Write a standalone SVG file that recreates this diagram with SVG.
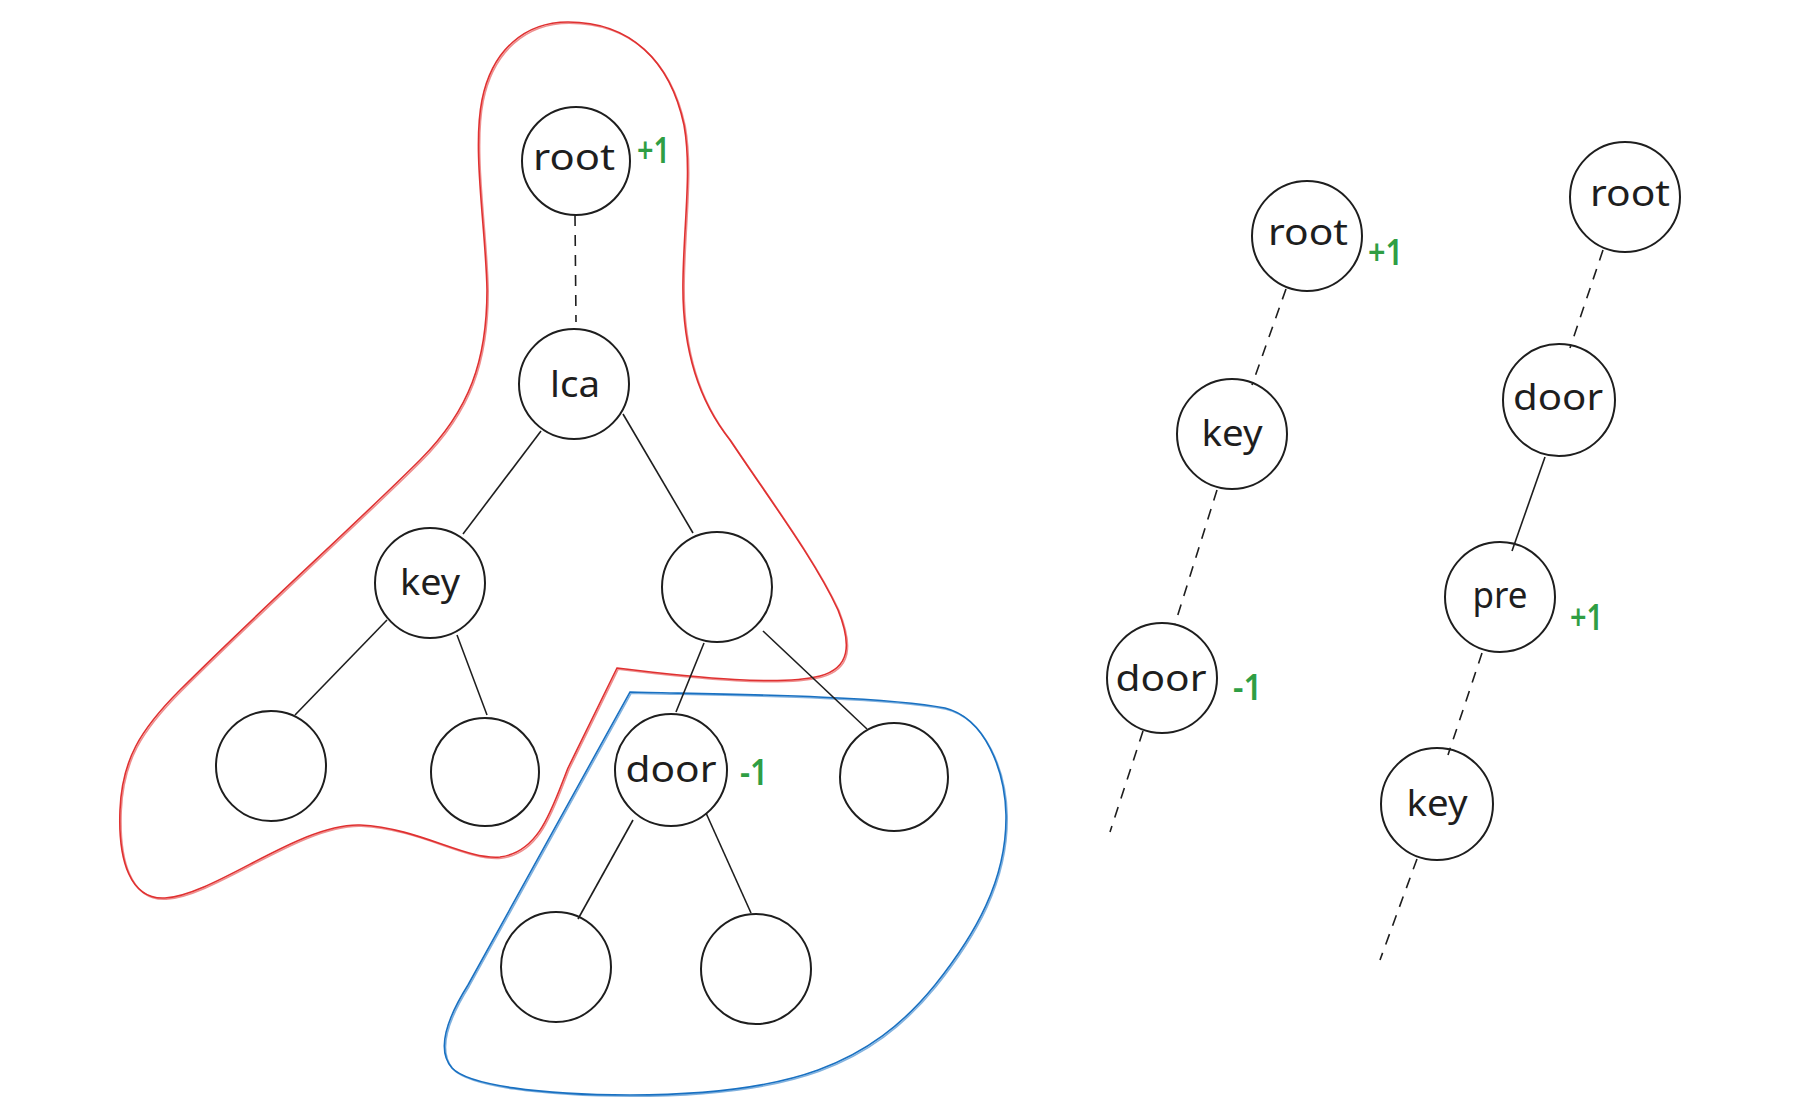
<svg xmlns="http://www.w3.org/2000/svg" xmlns:xlink="http://www.w3.org/1999/xlink" width="1793" height="1116" viewBox="0 0 1793 1116">
<defs>
<style>
.n{fill:none;stroke:#1e1e1e;stroke-width:2}
.l{font-family:"Noto Sans","Liberation Sans",sans-serif;font-size:36px;fill:#1e1e1e;text-anchor:middle}
.g{font-family:"Noto Sans","Liberation Sans",sans-serif;font-size:36px;font-weight:600;fill:#2f9e44}
.c{stroke:#1e1e1e;stroke-width:1.6;fill:none}
.d{stroke:#1e1e1e;stroke-width:1.6;fill:none;stroke-dasharray:11 9}
.red{fill:none;stroke:#e03131;stroke-width:1.6}
.blue{fill:none;stroke:#1971c2;stroke-width:1.6}
</style>
<path id="redp" d="M 568 22 C 630 22 670 60 684 125 C 692 170 684 220 683 280 C 682 330 690 390 730 440 C 770 500 815 560 838 610 C 852 645 850 668 820 676 C 780 686 700 678 617 668 L 568 768 C 552 808 540 852 500 857 C 465 860 420 828 360 825 C 300 823 215 895 165 898 C 130 900 118 860 120 810 C 122 760 140 730 180 690 C 260 610 360 520 420 460 C 470 410 487 360 487 290 C 486 230 472 150 482 100 C 492 50 525 22 568 22 Z"/>
<path id="bluep" d="M 630 692 C 700 694 880 695 945 708 C 985 718 1005 770 1006 815 C 1007 880 975 935 935 985 C 870 1065 790 1095 630 1095 C 540 1095 468 1085 452 1068 C 436 1050 446 1020 468 985 L 630 692 Z"/>
</defs>
<rect width="1793" height="1116" fill="#ffffff"/>
<g id="regions">
<use xlink:href="#redp" class="red"/>
<use xlink:href="#redp" class="red" transform="translate(1.2,1.2)" opacity="0.55" stroke-width="1"/>
<use xlink:href="#bluep" class="blue"/>
<use xlink:href="#bluep" class="blue" transform="translate(1.2,1.2)" opacity="0.55" stroke-width="1"/>
</g>
<g id="connectors">
<line class="d" x1="575" y1="215" x2="576" y2="322"/>
<line class="c" x1="541" y1="431" x2="463" y2="534"/>
<line class="c" x1="623" y1="414" x2="693" y2="533"/>
<line class="c" x1="387" y1="620" x2="295" y2="715"/>
<line class="c" x1="457" y1="635" x2="487" y2="715"/>
<line class="c" x1="704" y1="643" x2="676" y2="712"/>
<line class="c" x1="763" y1="631" x2="867" y2="729"/>
<line class="c" x1="633" y1="820" x2="578" y2="919"/>
<line class="c" x1="706" y1="813" x2="751" y2="913"/>
<line class="d" x1="1286" y1="289" x2="1252" y2="385"/>
<line class="d" x1="1217" y1="490" x2="1175" y2="624"/>
<line class="d" x1="1143" y1="731" x2="1110" y2="832"/>
<line class="d" x1="1603" y1="250" x2="1570" y2="348"/>
<line class="c" x1="1545" y1="457" x2="1512" y2="551"/>
<line class="d" x1="1482" y1="653" x2="1448" y2="755"/>
<line class="d" x1="1417" y1="859" x2="1380" y2="960"/>
</g>
<g id="n-root1"><circle class="n" cx="576" cy="161" r="54"/><text class="l" x="574" y="170" textLength="82" lengthAdjust="spacingAndGlyphs">root</text><text class="g" x="637" y="163" textLength="33" lengthAdjust="spacingAndGlyphs">+1</text></g>
<g id="n-lca"><circle class="n" cx="574" cy="384" r="55"/><text class="l" x="575" y="397" textLength="50" lengthAdjust="spacingAndGlyphs">lca</text></g>
<g id="n-key1"><circle class="n" cx="430" cy="583" r="55"/><text class="l" x="430" y="595" textLength="60" lengthAdjust="spacingAndGlyphs">key</text></g>
<g id="n-leafL"><circle class="n" cx="271" cy="766" r="55"/></g>
<g id="n-leafR"><circle class="n" cx="485" cy="772" r="54"/></g>
<g id="n-rc"><circle class="n" cx="717" cy="587" r="55"/></g>
<g id="n-door1"><circle class="n" cx="671" cy="770" r="56"/><text class="l" x="671" y="782" textLength="91" lengthAdjust="spacingAndGlyphs">door</text><text class="g" x="740" y="785" textLength="28" lengthAdjust="spacingAndGlyphs">-1</text></g>
<g id="n-rleaf"><circle class="n" cx="894" cy="777" r="54"/></g>
<g id="n-dl"><circle class="n" cx="556" cy="967" r="55"/></g>
<g id="n-dr"><circle class="n" cx="756" cy="969" r="55"/></g>
<g id="n-root2"><circle class="n" cx="1307" cy="236" r="55"/><text class="l" x="1308" y="245" textLength="80" lengthAdjust="spacingAndGlyphs">root</text><text class="g" x="1368" y="265" textLength="35" lengthAdjust="spacingAndGlyphs">+1</text></g>
<g id="n-key2"><circle class="n" cx="1232" cy="434" r="55"/><text class="l" x="1232" y="446" textLength="61" lengthAdjust="spacingAndGlyphs">key</text></g>
<g id="n-door2"><circle class="n" cx="1162" cy="678" r="55"/><text class="l" x="1161" y="691" textLength="91" lengthAdjust="spacingAndGlyphs">door</text><text class="g" x="1233" y="700" textLength="29" lengthAdjust="spacingAndGlyphs">-1</text></g>
<g id="n-root3"><circle class="n" cx="1625" cy="197" r="55"/><text class="l" x="1630" y="206" textLength="80" lengthAdjust="spacingAndGlyphs">root</text></g>
<g id="n-door3"><circle class="n" cx="1559" cy="400" r="56"/><text class="l" x="1558" y="410" textLength="90" lengthAdjust="spacingAndGlyphs">door</text></g>
<g id="n-pre"><circle class="n" cx="1500" cy="597" r="55"/><text class="l" x="1500" y="608" textLength="55" lengthAdjust="spacingAndGlyphs">pre</text><text class="g" x="1570" y="630" textLength="33" lengthAdjust="spacingAndGlyphs">+1</text></g>
<g id="n-key3"><circle class="n" cx="1437" cy="804" r="56"/><text class="l" x="1437" y="816" textLength="61" lengthAdjust="spacingAndGlyphs">key</text></g>
</svg>
